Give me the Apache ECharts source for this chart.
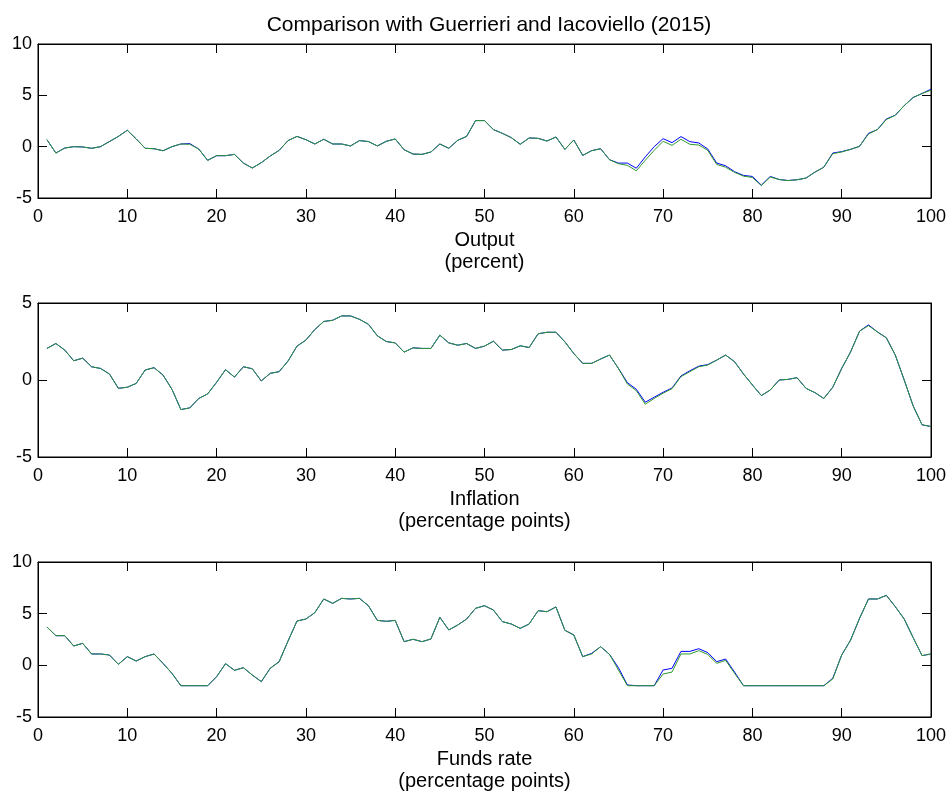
<!DOCTYPE html>
<html>
<head>
<meta charset="utf-8">
<title>Comparison with Guerrieri and Iacoviello (2015)</title>
<script src="https://cdn.jsdelivr.net/npm/echarts@6/dist/echarts.min.js"></script>
<style>
  html, body { margin: 0; padding: 0; background: #fff; }
  #chart { width: 948px; height: 793px; }
</style>
</head>
<body>
<div id="chart"></div>
<script>
// values, periods 1..100
var outputGreen = [
  0.68, -0.62, -0.13, 0, -0.03, -0.16, 0, 0.5, 1.0, 1.6,
  0.75, -0.16, -0.2, -0.4, 0, 0.26, 0.23, -0.23, -1.33, -0.88,
  -0.88, -0.75, -1.6, -2.08, -1.56, -0.91, -0.36, 0.59, 1.0, 0.68,
  0.26, 0.72, 0.26, 0.26, 0.07, 0.59, 0.5, 0.07, 0.52, 0.75,
  -0.3, -0.72, -0.75, -0.52, 0.26, -0.16, 0.62, 1.0, 2.54, 2.54,
  1.66, 1.3, 0.88, 0.23, 0.85, 0.81, 0.55, 0.94, -0.26, 0.65,
  -0.85, -0.39, -0.2, -1.27, -1.66, -1.82, -2.35, -1.33, -0.36, 0.52,
  0.13, 0.72, 0.23, 0.16, -0.36, -1.73, -2.0, -2.5, -2.87, -3.0,
  -3.8, -2.96, -3.2, -3.3, -3.22, -3.06, -2.48, -2.0, -0.68, -0.52,
  -0.26, 0.03, 1.24, 1.66, 2.64, 3.06, 4.0, 4.79, 5.18, 5.5
];
var outputBlue = [
  0.68, -0.62, -0.13, 0, -0.03, -0.16, 0, 0.5, 1.0, 1.6,
  0.75, -0.16, -0.2, -0.4, 0, 0.26, 0.3, -0.23, -1.33, -0.88,
  -0.88, -0.75, -1.6, -2.08, -1.56, -0.91, -0.36, 0.59, 1.0, 0.68,
  0.26, 0.72, 0.26, 0.26, 0.07, 0.59, 0.5, 0.07, 0.52, 0.75,
  -0.3, -0.72, -0.75, -0.52, 0.26, -0.16, 0.62, 1.0, 2.54, 2.54,
  1.66, 1.3, 0.88, 0.23, 0.85, 0.81, 0.55, 0.94, -0.26, 0.65,
  -0.85, -0.39, -0.2, -1.27, -1.6, -1.6, -2.1, -1.0, 0, 0.78,
  0.39, 0.98, 0.49, 0.36, -0.23, -1.6, -1.86, -2.44, -2.8, -2.9,
  -3.75, -2.9, -3.2, -3.3, -3.22, -3.06, -2.48, -2.0, -0.62, -0.48,
  -0.26, 0.03, 1.3, 1.66, 2.7, 3.06, 4.0, 4.79, 5.18, 5.6
];
var inflationGreen = [
  2.05, 2.37, 1.94, 1.25, 1.42, 0.86, 0.75, 0.39, -0.54, -0.47,
  -0.22, 0.65, 0.8, 0.32, -0.6, -1.92, -1.81, -1.2, -0.9, -0.15,
  0.67, 0.19, 0.86, 0.73, -0.06, 0.43, 0.54, 1.23, 2.2, 2.59,
  3.28, 3.8, 3.88, 4.16, 4.16, 3.94, 3.62, 2.87, 2.5, 2.41,
  1.81, 2.09, 2.05, 2.05, 2.91, 2.41, 2.26, 2.37, 2.05, 2.2,
  2.52, 1.94, 1.98, 2.22, 2.11, 3.0, 3.1, 3.1, 2.48, 1.72,
  1.08, 1.08, 1.36, 1.62, 0.75, -0.26, -0.69, -1.57, -1.2, -0.86,
  -0.56, 0.22, 0.54, 0.86, 0.97, 1.29, 1.62, 1.19, 0.39, -0.32,
  -1.01, -0.65, 0, 0.04, 0.15, -0.54, -0.82, -1.2, -0.47, 0.75,
  1.83, 3.17, 3.53, 3.12, 2.74, 1.62, 0, -1.68, -2.91, -3.02
];
var inflationBlue = [
  2.05, 2.37, 1.94, 1.25, 1.42, 0.86, 0.75, 0.39, -0.54, -0.47,
  -0.22, 0.65, 0.8, 0.32, -0.6, -1.92, -1.81, -1.2, -0.9, -0.15,
  0.67, 0.19, 0.86, 0.73, -0.06, 0.43, 0.54, 1.23, 2.2, 2.59,
  3.28, 3.8, 3.88, 4.16, 4.16, 3.94, 3.62, 2.87, 2.5, 2.41,
  1.81, 2.09, 2.05, 2.05, 2.91, 2.41, 2.26, 2.37, 2.05, 2.2,
  2.52, 1.94, 1.98, 2.22, 2.11, 3.0, 3.1, 3.1, 2.48, 1.72,
  1.08, 1.08, 1.36, 1.62, 0.75, -0.17, -0.6, -1.44, -1.12, -0.8,
  -0.52, 0.26, 0.6, 0.9, 1.0, 1.29, 1.62, 1.19, 0.39, -0.32,
  -1.01, -0.65, 0, 0.04, 0.15, -0.54, -0.82, -1.2, -0.47, 0.75,
  1.83, 3.17, 3.58, 3.12, 2.74, 1.62, 0, -1.68, -2.91, -3.02
];
var fundsGreen = [
  3.71, 2.87, 2.87, 1.87, 2.13, 1.1, 1.1, 1.0, 0.1, 0.84,
  0.42, 0.84, 1.1, 0.19, -0.77, -1.97, -1.97, -1.97, -1.97, -1.1,
  0.16, -0.48, -0.23, -0.94, -1.58, -0.29, 0.35, 2.35, 4.29, 4.48,
  5.1, 6.42, 6.0, 6.48, 6.42, 6.48, 5.77, 4.35, 4.26, 4.35,
  2.29, 2.52, 2.29, 2.55, 4.65, 3.42, 3.9, 4.48, 5.52, 5.77,
  5.35, 4.23, 4.0, 3.58, 4.0, 5.29, 5.19, 5.65, 3.39, 2.94,
  0.84, 1.1, 1.8, 1.06, -0.45, -1.97, -1.97, -1.97, -1.97, -0.84,
  -0.65, 1.1, 1.1, 1.42, 1.06, 0.19, 0.48, -0.77, -1.97, -1.97,
  -1.97, -1.97, -1.97, -1.97, -1.97, -1.97, -1.97, -1.97, -1.32, 1.0,
  2.45, 4.55, 6.42, 6.42, 6.77, 5.68, 4.48, 2.68, 0.94, 1.1
];
var fundsBlue = [
  3.71, 2.87, 2.87, 1.87, 2.13, 1.1, 1.1, 1.0, 0.1, 0.84,
  0.42, 0.84, 1.1, 0.19, -0.77, -1.97, -1.97, -1.97, -1.97, -1.1,
  0.16, -0.48, -0.23, -0.94, -1.58, -0.29, 0.35, 2.35, 4.29, 4.48,
  5.1, 6.42, 6.0, 6.48, 6.42, 6.48, 5.77, 4.35, 4.26, 4.35,
  2.29, 2.52, 2.29, 2.55, 4.65, 3.42, 3.9, 4.48, 5.52, 5.77,
  5.35, 4.23, 4.0, 3.58, 4.0, 5.29, 5.19, 5.65, 3.39, 2.94,
  0.84, 1.16, 1.8, 1.06, -0.23, -1.9, -1.97, -1.97, -1.97, -0.45,
  -0.29, 1.35, 1.35, 1.61, 1.23, 0.35, 0.61, -0.65, -1.97, -1.97,
  -1.97, -1.97, -1.97, -1.97, -1.97, -1.97, -1.97, -1.97, -1.25, 1.0,
  2.45, 4.55, 6.42, 6.42, 6.77, 5.68, 4.48, 2.68, 0.94, 1.1
];
var panelNames = ["Output\n(percent)", "Inflation\n(percentage points)", "Funds rate\n(percentage points)"];
var yRanges = [[-5, 10], [-5, 5], [-5, 10]];

var FONT = "'Liberation Sans', Helvetica, Arial, sans-serif";
var grids = [
  { left: 38, right: 17, top: 44, height: 154 },
  { left: 38, right: 17, top: 303, height: 154 },
  { left: 38, right: 17, top: 562, height: 155 }
];

function toPairs(arr) {
  return arr.map(function (v, i) { return [i + 1, v]; });
}

// axis line + inward ticks, shared by all axes (MATLAB box look)
function boxLine() {
  return { show: true, onZero: false, lineStyle: { color: "#000", width: 1 } };
}
function boxTick() {
  return { show: true, inside: true, length: 9, lineStyle: { color: "#000", width: 1 } };
}

var xAxes = [], yAxes = [];
grids.forEach(function (g, k) {
  g.show = true;
  g.borderColor = "#000";
  g.borderWidth = 1;
  g.backgroundColor = "#fff";
  g.outerBoundsMode = "none";
  // bottom axis with labels
  xAxes.push({
    type: "value", gridIndex: k, position: "bottom", min: 0, max: 100, interval: 10,
    name: panelNames[k], nameLocation: "middle", nameGap: 31,
    nameTextStyle: { color: "#000", fontSize: 20, fontFamily: FONT, lineHeight: 22 },
    axisLine: boxLine(), axisTick: boxTick(),
    axisLabel: { color: "#000", fontSize: 18, fontFamily: FONT, margin: 10, showMinLabel: true, showMaxLabel: true },
    splitLine: { show: false }
  });
  // top axis, ticks only
  xAxes.push({
    type: "value", gridIndex: k, position: "top", min: 0, max: 100, interval: 10,
    axisLine: boxLine(), axisTick: boxTick(),
    axisLabel: { show: false },
    splitLine: { show: false }
  });
  yAxes.push({
    type: "value", gridIndex: k, position: "left", min: yRanges[k][0], max: yRanges[k][1], interval: 5,
    axisLine: boxLine(), axisTick: boxTick(),
    axisLabel: { color: "#000", fontSize: 18, fontFamily: FONT, margin: 6, showMinLabel: true, showMaxLabel: true },
    splitLine: { show: false }
  });
  yAxes.push({
    type: "value", gridIndex: k, position: "right", min: yRanges[k][0], max: yRanges[k][1], interval: 5,
    axisLine: boxLine(), axisTick: boxTick(),
    axisLabel: { show: false },
    splitLine: { show: false }
  });
});

var pairs = [
  [outputBlue, outputGreen],
  [inflationBlue, inflationGreen],
  [fundsBlue, fundsGreen]
];
var series = [];
pairs.forEach(function (p, k) {
  series.push({
    name: "Guerrieri and Iacoviello (2015)", type: "line",
    xAxisIndex: 2 * k, yAxisIndex: 2 * k,
    data: toPairs(p[0]), showSymbol: false, silent: true, animation: false,
    lineStyle: { color: "#0000ff", width: 1 }, itemStyle: { color: "#0000ff" }
  });
  series.push({
    name: "Model", type: "line",
    xAxisIndex: 2 * k, yAxisIndex: 2 * k,
    data: toPairs(p[1]), showSymbol: false, silent: true, animation: false,
    lineStyle: { color: "#2e9a2e", width: 1 }, itemStyle: { color: "#2e9a2e" }
  });
});

var chart = echarts.init(document.getElementById("chart"));
chart.setOption({
  backgroundColor: "#fff",
  animation: false,
  title: {
    text: "Comparison with Guerrieri and Iacoviello (2015)",
    left: 484, top: 10, textAlign: "center",
    textStyle: { color: "#000", fontSize: 21, fontWeight: "normal", fontFamily: FONT }
  },
  grid: grids,
  xAxis: xAxes,
  yAxis: yAxes,
  series: series
});
</script>
</body>
</html>
